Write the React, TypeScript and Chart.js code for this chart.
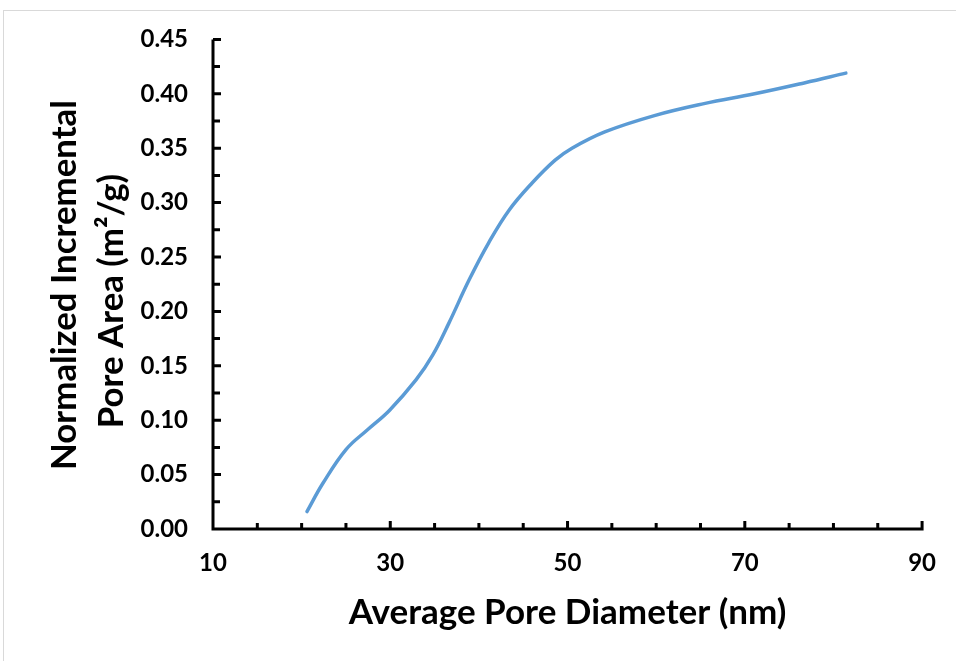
import React, { useEffect, useRef } from "react";
import { Chart, registerables } from "chart.js";

Chart.register(...registerables);

const poreDiameter = [20.6, 22.4, 25.0, 27.4, 29.9, 32.9, 34.8, 36.6, 38.9, 41.1, 43.4, 46.0, 48.6, 50.5, 54.2, 59.8, 65.4, 71.1, 76.7, 81.4];
const poreArea = [0.016, 0.042, 0.073, 0.091, 0.109, 0.137, 0.160, 0.189, 0.229, 0.263, 0.293, 0.318, 0.339, 0.350, 0.365, 0.380, 0.391, 0.400, 0.410, 0.419];

const xTitle = "Average Pore Diameter (nm)";
const yTitleLines = ["Normalized Incremental", "Pore Area (m²/g)"];

const FONT = "Lato, 'Open Sans', sans-serif";

const axesPlugin = {
  id: "axesPlugin",
  afterDraw(chart: any) {
    const { ctx, scales } = chart;
    const xs = scales.x;
    const ys = scales.y;
    const x0 = xs.getPixelForValue(10);
    const y0 = ys.getPixelForValue(0);
    const xEnd = xs.getPixelForValue(90);
    const yEnd = ys.getPixelForValue(0.45);
    ctx.save();
    ctx.strokeStyle = "#000";
    ctx.lineWidth = 3;
    ctx.lineCap = "butt";
    ctx.beginPath();
    ctx.moveTo(x0, yEnd);
    ctx.lineTo(x0, y0 + 1.5);
    ctx.moveTo(x0 - 1.5, y0);
    ctx.lineTo(xEnd + 1.5, y0);
    for (let v = 10; v <= 90; v += 5) {
      const px = xs.getPixelForValue(v);
      const len = (v - 10) % 20 === 0 ? 8 : 6;
      ctx.moveTo(px, y0);
      ctx.lineTo(px, y0 - len);
    }
    for (let i = 0; i <= 18; i++) {
      const v = i * 0.025;
      const py = ys.getPixelForValue(v);
      const len = i % 2 === 0 ? 8 : 7;
      ctx.moveTo(x0, py);
      ctx.lineTo(x0 + len, py);
    }
    ctx.stroke();

    ctx.fillStyle = "#000";
    const fitFont = (text: string, width: number) => {
      ctx.font = `bold 30px ${FONT}`;
      const w = ctx.measureText(text).width;
      const size = (30 * width) / w;
      ctx.font = `bold ${size}px ${FONT}`;
    };
    const cx = (chart.chartArea.left + chart.chartArea.right) / 2;
    fitFont(xTitle, 438);
    ctx.textAlign = "center";
    ctx.textBaseline = "alphabetic";
    ctx.fillText(xTitle, cx, 624);

    const lineDefs = [
      { text: yTitleLines[0], bx: 76, cy: 285 },
      { text: yTitleLines[1], bx: 123, cy: 301 },
    ];
    fitFont(yTitleLines[0], 370);
    for (const d of lineDefs) {
      ctx.save();
      ctx.translate(d.bx, d.cy);
      ctx.rotate(-Math.PI / 2);
      ctx.fillText(d.text, 0, 0);
      ctx.restore();
    }
    ctx.restore();
  },
};

export default function App() {
  const canvasRef = useRef<HTMLCanvasElement | null>(null);

  useEffect(() => {
    if (!canvasRef.current) return;
    const data = poreDiameter.map((x, i) => ({ x, y: poreArea[i] }));
    const chart = new Chart(canvasRef.current, {
      type: "scatter",
      data: {
        datasets: [
          {
            data,
            showLine: true,
            borderColor: "#5B9BD5",
            backgroundColor: "#5B9BD5",
            borderWidth: 3.5,
            pointRadius: 0,
            tension: 0.4,
            borderCapStyle: "round",
          } as any,
        ],
      },
      options: {
        responsive: false,
        animation: false,
        layout: { padding: { top: 39, right: 31, left: 0, bottom: 0 } },
        plugins: { legend: { display: false }, tooltip: { enabled: false } },
        scales: {
          x: {
            type: "linear",
            min: 10,
            max: 90,
            grid: { display: false, drawTicks: false },
            border: { display: false },
            ticks: {
              stepSize: 20,
              padding: 20,
              color: "#000",
              font: { family: FONT, size: 24, weight: "bold" },
              maxRotation: 0,
            },
            afterFit: (s: any) => {
              s.height = 132;
            },
          },
          y: {
            type: "linear",
            min: 0,
            max: 0.45,
            grid: { display: false, drawTicks: false },
            border: { display: false },
            ticks: {
              stepSize: 0.05,
              padding: 25,
              color: "#000",
              font: { family: FONT, size: 24, weight: "bold" },
              callback: (v: any) => Number(v).toFixed(2),
            },
            afterFit: (s: any) => {
              s.width = 213;
            },
          },
        },
      },
      plugins: [axesPlugin],
    });
    return () => chart.destroy();
  }, []);

  return (
    <div style={{ position: "fixed", left: 0, top: 0, width: 956, height: 661, background: "#fff", overflow: "hidden" }}>
      <div
        style={{
          position: "absolute",
          left: 3,
          top: 10,
          width: 1000,
          height: 700,
          borderLeft: "1.5px solid #d9d9d9",
          borderTop: "1.5px solid #d9d9d9",
        }}
      />
      <canvas ref={canvasRef} width={956} height={661} style={{ position: "absolute", left: 0, top: 0 }} />
    </div>
  );
}
